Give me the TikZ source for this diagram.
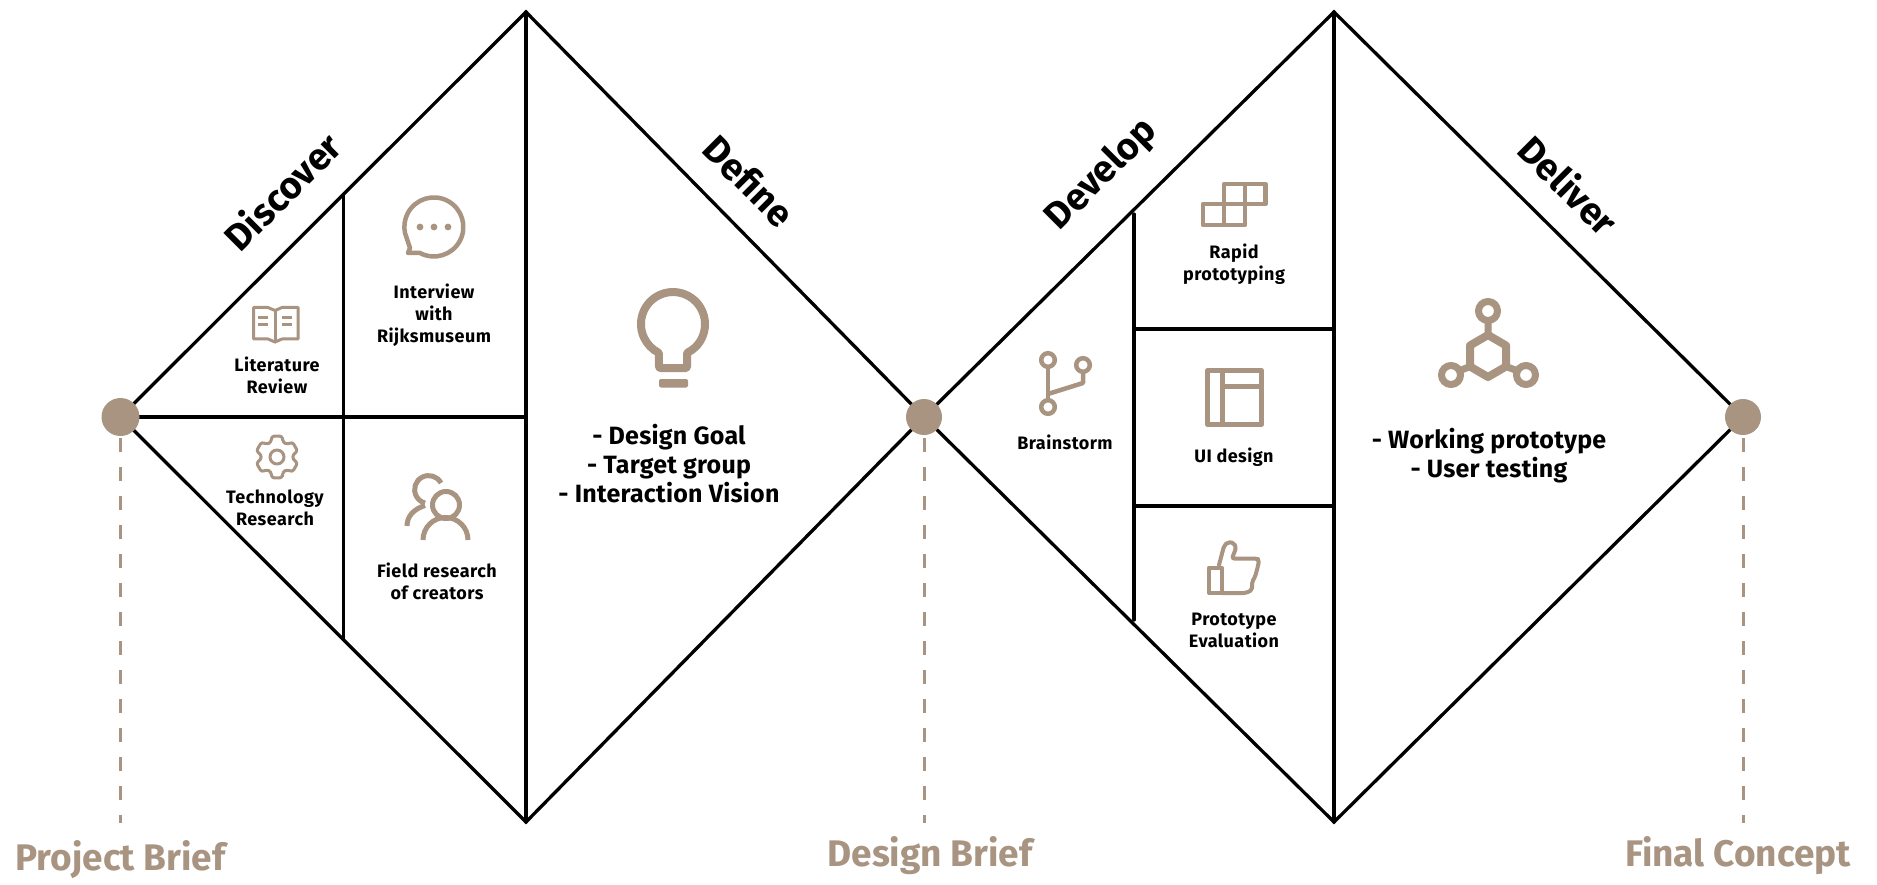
\documentclass[tikz,border=0pt]{standalone}
\usepackage{fontspec}
\setmainfont{Fira Sans}
\newfontfamily\spacedf{Fira Sans}[LetterSpace=2.5]
\newfontfamily\midf{Fira Sans}[LetterSpace=1]
\definecolor{brn}{HTML}{A89481}
\tikzset{
  x=1pt,y=-1pt,
  frame/.style={draw=black,line width=3.3pt,line cap=round,line join=miter},
  dot/.style={circle,fill=brn,draw=none,minimum size=38pt,inner sep=0pt},
  stem/.style={draw=brn,line width=3pt,dash pattern=on 14pt off 15pt,dash phase=8pt},
  milestone/.style={text=brn,font=\fontsize{37}{40}\selectfont\bfseries,inner sep=0pt},
  phase/.style={font=\fontsize{37.5}{40}\selectfont\bfseries,inner sep=0pt},
  small/.style={font=\fontsize{18}{22}\selectfont\spacedf\bfseries,align=center,inner sep=0pt},
  big/.style={font=\fontsize{25}{29}\selectfont\midf\bfseries,align=center,inner sep=0pt},
  ico/.style={draw=brn,line width=#1,line join=round,line cap=round},
  ico/.default=3pt
}
\begin{document}
\begin{tikzpicture}
\useasboundingbox (0,0) rectangle (1877,885);
\fill[white] (0,0) rectangle (1877,885);
% vertices
\coordinate (L) at (120.5,417);
\coordinate (T1) at (526,12);
\coordinate (B1) at (526,822);
\coordinate (M) at (924,417);
\coordinate (T2) at (1334,12);
\coordinate (B2) at (1334,822);
\coordinate (R) at (1743,417);
\coordinate (d1t) at (343.5,195);
\coordinate (d1b) at (343.5,639);
\coordinate (d2t) at (1134,214);
\coordinate (d2b) at (1134,620);
\coordinate (h1) at (1134,329);
\coordinate (h1r) at (1334,329);
\coordinate (h2) at (1134,506);
\coordinate (h2r) at (1334,506);
\coordinate (h0r) at (526,417);
% frames
\draw[frame] (L) -- (T1) -- (M) -- (B1) -- cycle;
\draw[frame] (M) -- (T2) -- (R) -- (B2) -- cycle;
\draw[frame] (T1) -- (B1);
\draw[frame] (T2) -- (B2);
\draw[frame] (L) -- (h0r);
\draw[frame] (d1t) -- (d1b);
\draw[frame] (d2t) -- (d2b);
\draw[frame] (h1) -- (h1r);
\draw[frame] (h2) -- (h2r);
% milestones
\coordinate (e1) at (120.5,823);
\coordinate (e2) at (924,823);
\coordinate (e3) at (1743,823);
\draw[stem] (L) -- (e1);
\draw[stem] (M) -- (e2);
\draw[stem] (R) -- (e3);
\node[dot] (dL) at (L) {};
\node[dot,minimum size=36pt] (dM) at (M) {};
\node[dot,minimum size=36pt] (dR) at (R) {};
\node[milestone] (pb) at (120.5,860) {Project Brief};
\node[milestone] (db) at (930,856) {Design Brief};
\node[milestone] (fc) at (1738,856) {Final Concept};
% phases
\node[phase,rotate=45] (discover) at (282,191) {Discover};
\node[phase,rotate=-45] (define) at (749,181) {Define};
\node[phase,rotate=45] (develop) at (1102,175) {Develop};
\node[phase,rotate=-45] (deliver) at (1569,185) {Deliver};
% small labels
\node[small] (lit) at (277,375) {Literature\\Review};
\node[small] (int) at (434,315) {Interview\\with\\Rijksmuseum};
\node[small] (tech) at (275,508) {Technology\\Research};
\node[small] (field) at (437,581) {Field research\\of creators};
\node[small] (rapid) at (1234,264) {Rapid\\prototyping};
\node[small] (brain) at (1065,442) {Brainstorm};
\node[small] (ui) at (1234,457) {UI design};
\node[small] (eval) at (1234,630) {Prototype\\Evaluation};
\node[big] (goal) at (669,464) {- Design Goal\\- Target group\\- Interaction Vision};
\node[big] (work) at (1489,456) {- Working prototype\\- User testing};
% book
\draw[ico=3pt] (253.5,307.5) -- (268,307.5) -- (275,310.5) -- (282,307.5) -- (298,307.5) -- (298,339) -- (282,339) -- (275,342) -- (268,339) -- (253.5,339) -- cycle;
\draw[ico=3pt] (275,310.5) -- (275,342);
\draw[ico=3pt,line cap=butt] (258,318) -- (268,318) (258,325) -- (268,325) (282,318) -- (292,318) (282,325) -- (292,325);
% chat
\draw[ico=4.5pt] (420,253) arc[start angle=-118,end angle=192,radius=29.5pt] -- (410,248) -- (408,253) -- cycle;
\fill[brn] (420,227) circle[radius=3.4pt] (434,227) circle[radius=3.4pt] (448,227) circle[radius=3.4pt];
% gear
\begin{scope}[shift={(277,457)}]
\draw[ico=3pt,rounded corners=2.5pt] (76:21.5)
  \foreach \k in {0,...,5} { -- ({90+60*\k-14}:21.5) -- ({90+60*\k+14}:21.5) -- ({90+60*\k+22}:16) -- ({90+60*\k+38}:16) } -- cycle;
\draw[ico=3pt] (0,0) circle[radius=7pt];
\end{scope}
% people
\draw[ico=5pt,line cap=butt] (446,505) circle[radius=13.5pt];
\draw[ico=5pt,line cap=butt] (468,540) arc[start angle=0,end angle=180,radius=22.5pt];
\draw[ico=5pt,line cap=butt] (441,483) arc[start angle=28,end angle=255,radius=14pt];
\draw[ico=5pt,line cap=butt] (407,526) .. controls (407,516) and (414,509) .. (425,505.5);
% blocks
\draw[ico=4.5pt] (1224,184) rectangle (1245,204) (1245,184) rectangle (1265.5,204)
  (1203,204) rectangle (1224,225) (1224,204) rectangle (1245,225);
% UI
\draw[ico=5pt] (1207.5,370.5) rectangle (1261.5,424.5);
\draw[ico=5pt,line cap=butt] (1222,370.5) -- (1222,424.5) (1222,386) -- (1261.5,386);
% branch
\draw[ico=4.5pt] (1048,360) circle[radius=6.8pt] (1083,365) circle[radius=6.8pt] (1048,407) circle[radius=6.8pt];
\draw[ico=4.5pt,line cap=butt] (1048,367) -- (1048,400);
\draw[ico=4.5pt,line cap=butt] (1083,372) -- (1083,383) -- (1048,394);
% thumb
\draw[ico=4pt] (1209,567.5) rectangle (1221.5,593);
\draw[ico=4pt,rounded corners=2pt] (1221.5,593) -- (1246,593) -- (1252,590) -- (1252,582) -- (1255,577) -- (1258,566) -- (1259,560) -- (1257,558.5) -- (1232,558.5) -- (1236,548) -- (1234,543) -- (1228,542) -- (1224,546) -- (1219,565);
% bulb
\draw[ico=8pt,line join=round,rounded corners=1pt] (687,352.8) arc[start angle=-64,end angle=244,radius=32pt] -- (659,368) -- (687,368) -- cycle;
\fill[brn,rounded corners=2pt] (659,379) rectangle (688,387.5);
% molecule
\draw[ico=8pt] (1488,335) -- (1506,345.5) -- (1506,366.5) -- (1488,377) -- (1470,366.5) -- (1470,345.5) -- cycle;
\draw[ico=7pt] (1488,311) circle[radius=9.5pt] (1451,375) circle[radius=9.5pt] (1526,375) circle[radius=9.5pt];
\draw[ico=7pt,line cap=butt] (1488,320) -- (1488,335) (1470,366.5) -- (1459,371) (1506,366.5) -- (1518,371);
\end{tikzpicture}
\end{document}
